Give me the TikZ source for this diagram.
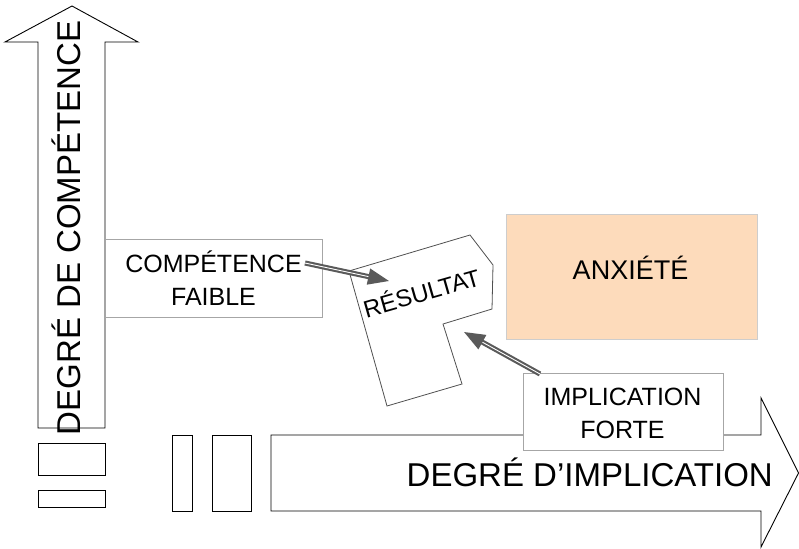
\documentclass[tikz,border=0pt]{standalone}
\usepackage{fontspec}
\setmainfont{Liberation Sans}
\usetikzlibrary{arrows.meta}
\definecolor{linkgray}{HTML}{5A5A5A}
\definecolor{boxgray}{HTML}{A6A6A6}
\definecolor{polygray}{HTML}{505050}
\definecolor{peach}{HTML}{FDDBBB}
\definecolor{peachline}{HTML}{CDCDCD}
\tikzset{
  axisline/.style={draw=black, line width=0.9pt, fill=white},
  labelbox/.style={draw=boxgray, line width=1pt, fill=white, inner sep=0pt},
  boxtext/.style={anchor=base, align=center, inner sep=0pt, font=\fontsize{25}{33.5}\selectfont},
  link/.style={draw=linkgray, line width=2.1pt, double=white, double distance=0.9pt,
    -{Triangle[length=21pt,width=16pt]}}
}
\begin{document}
\begin{tikzpicture}[x=1pt,y=-1pt]
    \useasboundingbox (0,0) rectangle (799,548);

    % Vertical axis
    \draw[axisline] (38,428) -- (38,42) -- (5,42) -- (72,6) -- (138,42) -- (105,42) -- (105,428) -- cycle;
    \draw[axisline] (38,443) rectangle (105,475);
    \draw[axisline] (38,490) rectangle (105,507);
    \node[rotate=90, anchor=base, inner sep=0pt, font=\fontsize{33}{40}\selectfont] (competence) at (80,228) {DEGRÉ DE COMPÉTENCE};

    % Horizontal axis
    \draw[axisline] (172,435) rectangle (192,511);
    \draw[axisline] (212,435) rectangle (251,511);
    \draw[axisline] (271,435) -- (761,435) -- (761,398) -- (798.5,473) -- (761,547) -- (761,511) -- (271,511) -- cycle;
    \node[anchor=base east, inner sep=0pt, font=\fontsize{33}{40}\selectfont] (implication) at (773,486) {DEGRÉ D’IMPLICATION};

    % Result shape
    \draw[draw=polygray, line width=0.8pt, fill=white] (349,271) -- (470,235) -- (493,265) -- (492,309) -- (443,324) -- (462,384) -- (387,406) -- cycle;
    \node[rotate=16, anchor=base, inner sep=0pt, font=\fontsize{24}{28}\selectfont] (resultat) at (424,301.5) {RÉSULTAT};

    % Anxiety
    \node[draw=peachline, line width=1pt, fill=peach, minimum width=251pt, minimum height=125pt] (anx) at (631.5,276.5) {};
    \node[anchor=base, inner sep=0pt, font=\fontsize{27}{32}\selectfont] (anxtext) at (630.5,279.3) {ANXIÉTÉ};

    % Low competence
    \node[labelbox, minimum width=217pt, minimum height=78pt] (faible) at (213.5,278) {};
    \node[boxtext] (faibletext) at (213.5,305.5) {COMPÉTENCE\\FAIBLE};

    % High involvement
    \node[labelbox, minimum width=200pt, minimum height=77pt] (forte) at (623,411.5) {};
    \node[boxtext] (fortetext) at (622.5,438.5) {IMPLICATION\\FORTE};

    % Arrows
    \coordinate (c1) at (305,263);
    \coordinate (r1) at (389,281);
    \coordinate (c2) at (540,374);
    \coordinate (r2) at (464,332);
    \draw[link] (c1) -- (r1);
    \draw[link] (c2) -- (r2);
\end{tikzpicture}
\end{document}
